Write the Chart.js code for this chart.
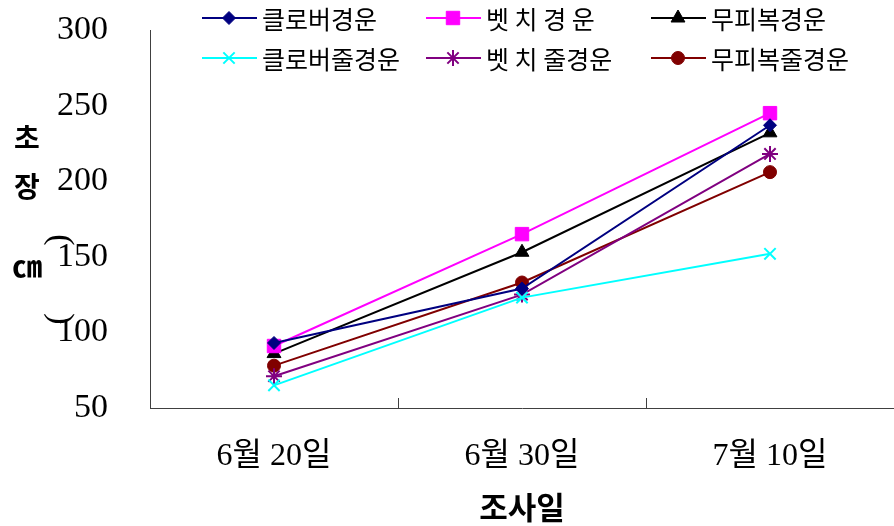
<!DOCTYPE html>
<html>
<head>
<meta charset="utf-8">
<script src="https://cdn.jsdelivr.net/npm/chart.js@4/dist/chart.umd.min.js"></script>
<style>
    html, body { margin: 0; padding: 0; background: #fff; }
    #wrap { width: 894px; height: 526px; }
</style>
</head>
<body>
<div id="wrap"><canvas id="heightChart"></canvas></div>
<script>
var dates = ['6월 20일', '6월 30일', '7월 10일'];
var seriesNames = ['클로버경운', '벳 치 경 운', '무피복경운', '클로버줄경운', '벳 치 줄경운', '무피복줄경운'];
var cloverTill = [93, 129, 237];
var vetchTill = [91, 165, 245];
var bareTill = [86, 153, 232];
var cloverStrip = [65, 123, 152];
var vetchStrip = [71, 125, 218];
var bareStrip = [78, 133, 206];
var yTicks = [50, 100, 150, 200, 250, 300];

var serifFont = "'Liberation Serif', 'Noto Sans CJK KR', serif";
var koFont = "'Noto Sans CJK KR', sans-serif";

function makeSet(i, data, color, style, radius) {
    return {
        label: seriesNames[i],
        data: data,
        borderColor: color,
        backgroundColor: color,
        borderWidth: 2,
        pointStyle: style,
        pointRadius: radius,
        pointHoverRadius: radius,
        pointBorderWidth: style === 'crossRot' || style === 'star' ? 2 : 1,
        tension: 0
    };
}

// legend drawn as a fixed 3 x 2 grid like the original
var legendGrid = {
    id: 'legendGrid',
    afterDraw: function (chart) {
        var ctx = chart.ctx;
        var colX = [202, 426, 651];
        var rowY = [18, 58];
        chart.data.datasets.forEach(function (ds, i) {
            var x = colX[i % 3];
            var y = rowY[Math.floor(i / 3)];
            ctx.save();
            ctx.strokeStyle = ds.borderColor;
            ctx.fillStyle = ds.backgroundColor;
            ctx.lineWidth = 2;
            ctx.beginPath();
            ctx.moveTo(x, y);
            ctx.lineTo(x + 55, y);
            ctx.stroke();
            ctx.lineWidth = ds.pointBorderWidth;
            Chart.helpers.drawPoint(ctx, {
                pointStyle: ds.pointStyle,
                radius: ds.pointRadius,
                rotation: 0,
                borderWidth: ds.pointBorderWidth
            }, x + 27, y);
            ctx.fillStyle = '#000';
            ctx.font = '25px ' + koFont;
            ctx.textBaseline = 'middle';
            ctx.textAlign = 'left';
            ctx.fillText(ds.label, x + 60, y + 1);
            ctx.restore();
        });
    }
};

// vertical y title and inward x ticks
var extras = {
    id: 'extras',
    afterDraw: function (chart) {
        var ctx = chart.ctx;
        var xs = chart.scales.x;
        var area = chart.chartArea;
        ctx.save();
        ctx.fillStyle = '#000';
        ctx.textAlign = 'center';
        ctx.textBaseline = 'middle';
        ctx.font = 'bold 28px ' + koFont;
        ctx.fillText('초', 27, 138);
        ctx.fillText('장', 27, 186);
        ctx.font = 'bold 30px ' + koFont;
        ctx.fillText('㎝', 27, 266);
        ctx.font = '34px ' + serifFont;
        ctx.save();
        ctx.translate(60, 240);
        ctx.rotate(Math.PI / 2);
        ctx.fillText('(', 0, 0);
        ctx.restore();
        ctx.save();
        ctx.translate(60, 319);
        ctx.rotate(Math.PI / 2);
        ctx.fillText(')', 0, 0);
        ctx.restore();

        var step = xs.getPixelForValue(1) - xs.getPixelForValue(0);
        ctx.strokeStyle = '#404040';
        ctx.lineWidth = 1;
        for (var i = 0; i <= dates.length; i++) {
            var x = Math.round(xs.getPixelForValue(i) - step / 2) + 0.5;
            ctx.beginPath();
            ctx.moveTo(x, area.bottom - 10);
            ctx.lineTo(x, area.bottom);
            ctx.stroke();
        }
        ctx.restore();
    }
};

// pin the plot top to where the 300 line sits in the original
var fixArea = {
    id: 'fixArea',
    afterLayout: function (chart) {
        var ys = chart.scales.y;
        chart.chartArea.top = 30;
        ys.top = 30;
        ys.height = ys.bottom - ys.top;
        ys.configure();
    }
};

var ctx = document.getElementById('heightChart').getContext('2d');
var heightChart = new Chart(ctx, {
    type: 'line',
    data: {
        labels: dates,
        datasets: [
            makeSet(0, cloverTill, '#000080', 'rectRot', 6.5),
            makeSet(1, vetchTill, '#FF00FF', 'rect', 9.5),
            makeSet(2, bareTill, '#000000', 'triangle', 8),
            makeSet(3, cloverStrip, '#00FFFF', 'crossRot', 8),
            makeSet(4, vetchStrip, '#800080', 'star', 8),
            makeSet(5, bareStrip, '#800000', 'circle', 6.5)
        ]
    },
    options: {
        responsive: true,
        maintainAspectRatio: false,
        animation: false,
        devicePixelRatio: 1,
        layout: { autoPadding: false, padding: { top: 30, left: 0, right: 0, bottom: 0 } },
        plugins: {
            legend: { display: false },
            tooltip: { enabled: false }
        },
        scales: {
            x: {
                type: 'category',
                offset: true,
                grid: { display: false, drawTicks: false },
                border: { display: true, color: '#404040', width: 1 },
                ticks: {
                    color: '#000',
                    padding: 29,
                    font: { family: serifFont, size: 32 },
                    maxRotation: 0
                },
                title: {
                    display: true,
                    text: '조사일',
                    color: '#000',
                    font: { family: koFont, size: 31, weight: 'bold' },
                    padding: { top: 0, bottom: 0 }
                },
                afterFit: function (scale) { scale.height = 118; }
            },
            y: {
                min: yTicks[0],
                max: yTicks[yTicks.length - 1],
                grid: { display: false, drawTicks: false },
                border: { display: true, color: '#404040', width: 1 },
                afterBuildTicks: function (scale) {
                    scale.ticks = yTicks.map(function (v) { return { value: v }; });
                },
                ticks: {
                    color: '#000',
                    padding: 42,
                    font: { family: serifFont, size: 34 }
                },
                afterFit: function (scale) { scale.width = 150; }
            }
        }
    },
    plugins: [legendGrid, extras, fixArea]
});
</script>
</body>
</html>
